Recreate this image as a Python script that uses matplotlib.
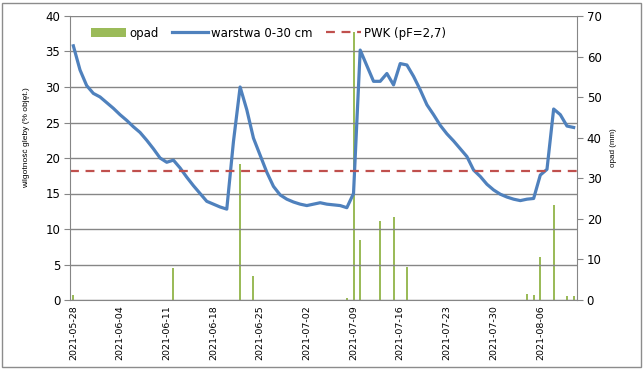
# wykres wilgotnosci gleby i opadu
# odtworzenie wykresu z arkusza

import numpy as np
import pandas as pd
import matplotlib
matplotlib.use('Agg')
import matplotlib.pyplot as plt
import matplotlib.dates as mdates
from matplotlib.patches import Rectangle

# dni pomiarowe 2021-05-28 .. 2021-08-11
days = pd.date_range('2021-05-28', '2021-08-11', freq='D')

# warstwa 0-30 cm (% obj.)
moisture = [
    35.8, 32.4, 30.2, 29.1, 28.6, 27.8, 27.0, 26.1, 25.3, 24.4,
    23.6, 22.5, 21.3, 20.0, 19.4, 19.7, 18.6, 17.3, 16.1, 15.0,
    13.9, 13.5, 13.1, 12.8, 22.3, 30.0, 26.8, 22.8, 20.4, 18.0,
    16.0, 14.8, 14.2, 13.8, 13.5, 13.3, 13.5, 13.7, 13.5, 13.4,
    13.3, 13.0, 15.0, 35.2, 33.0, 30.8, 30.8, 31.9, 30.3, 33.3,
    33.1, 31.5, 29.6, 27.5, 26.1, 24.6, 23.4, 22.4, 21.3, 20.2,
    18.3, 17.4, 16.3, 15.5, 14.9, 14.5, 14.2, 14.0, 14.2, 14.3,
    17.6, 18.4, 26.9, 26.1, 24.5, 24.3,
]

# opad (mm) - tylko dni z deszczem
rain_days = pd.to_datetime([
    '2021-05-28', '2021-06-12', '2021-06-22', '2021-06-24', '2021-07-08',
    '2021-07-09', '2021-07-10', '2021-07-13', '2021-07-15', '2021-07-17',
    '2021-08-04', '2021-08-05', '2021-08-06', '2021-08-08', '2021-08-10',
    '2021-08-11',
])
rain = [1.2, 7.9, 33.5, 5.9, 0.6, 66.0, 14.8, 19.5, 20.4, 8.1,
        1.5, 1.2, 10.5, 23.4, 1.0, 1.0]

pwk = 18.2

BLUE = '#4F81BD'
GREEN = '#9BBB59'
RED = '#C0504D'
GRID = '#868686'

fig = plt.figure(figsize=(6.44, 3.69), dpi=100)
ax = fig.add_axes([70/644, 1 - 300/369, 507/644, 284/369])
ax2 = ax.twinx()

# slupki opadu na osi prawej
ax2.bar(rain_days, rain, width=0.3, color=GREEN, label='opad')
ax2.set_ylim(0, 70)
ax2.set_yticks(range(0, 71, 10))

# linia wilgotnosci i PWK na osi lewej
ax.plot(days, moisture, color=BLUE, linewidth=2.3, label='warstwa 0-30 cm')
ax.axhline(pwk, color=RED, linewidth=1.6, dashes=(4, 3),
           label='PWK (pF=2,7)')
ax.set_ylim(0, 40)
ax.set_yticks(range(0, 41, 5))
ax.set_zorder(ax2.get_zorder() + 1)
ax.patch.set_visible(False)
ax.yaxis.grid(True, color=GRID, linewidth=1)
ax.set_axisbelow(True)

ax.set_xlim(days[0] - pd.Timedelta(hours=12), days[-1] + pd.Timedelta(hours=12))
ax.set_xticks(days[::7])
ax.xaxis.set_major_formatter(mdates.DateFormatter('%Y-%m-%d'))

for a in (ax, ax2):
    a.spines['top'].set_visible(False)
    for sp in a.spines.values():
        sp.set_color(GRID)
ax.spines['right'].set_visible(False)
ax2.spines['left'].set_visible(False)
ax2.spines['bottom'].set_visible(False)

ax.tick_params(axis='y', labelsize=8.5, length=4, color=GRID, pad=3)
ax2.tick_params(axis='y', labelsize=8.5, length=4, color=GRID, pad=3)
ax.tick_params(axis='x', labelsize=6.8, length=0, labelrotation=90, pad=4)

ax.set_ylabel('wilgotność gleby (% objęt.)', fontsize=6.0,
              family='Liberation Sans')
ax.yaxis.set_label_coords(-0.079, 0.57)
ax2.set_ylabel('opad (mm)', fontsize=5.8, family='Liberation Sans')
ax2.yaxis.set_label_coords(1.065, 0.535)

h1, l1 = ax2.get_legend_handles_labels()
h2, l2 = ax.get_legend_handles_labels()
ax.legend(h1 + h2, l1 + l2, loc='upper left', bbox_to_anchor=(0.02, 1.0),
          ncol=3, frameon=False, fontsize=8.5, handlelength=3.0,
          columnspacing=1.1, handletextpad=0.3)

# ramka wykresu
fig.patches.append(Rectangle((2/644, 2/369), 639/644, 364/369,
                             transform=fig.transFigure, fill=False,
                             edgecolor='#8c8c8c', linewidth=1))

plt.savefig('out.png', dpi=100)
plt.close()
